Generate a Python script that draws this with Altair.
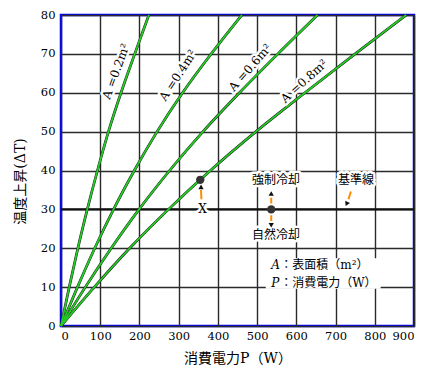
import altair as alt
import pandas as pd

# ---- data ----
temp_rise = [0, 10, 20, 30, 40, 50, 60, 70, 80]
power_a02 = [0, 21, 43, 67, 93, 121, 153, 188, 224]
power_a04 = [0, 42, 86, 134, 187, 245, 310, 383, 461]
power_a06 = [0, 62, 128, 199, 277, 362, 455, 553, 654]
power_a08 = [0, 85, 175, 274, 381, 497, 622, 750, 880]
areas = ["0.2", "0.4", "0.6", "0.8"]

x_ticks = [0, 100, 200, 300, 400, 500, 600, 700, 800, 900]
y_ticks = [0, 10, 20, 30, 40, 50, 60, 70, 80]

curve_labels = ["A =0.2m²", "A =0.4m²", "A =0.6m²", "A =0.8m²"]
curve_label_p = [140, 298, 482, 620]
curve_label_t = [65.5, 64.5, 66.5, 63.0]
curve_label_angle = [290, 303, 311, 318]

ref_temp = 30
point_p = [355, 536]
point_t = [37.6, 30]

text_items = ["X", "強制冷却", "自然冷却", "基準線"]
text_p = [361, 548, 548, 752]
text_t = [30.0, 37.5, 23.4, 37.5]

legend_sym = ["A", "P"]
legend_rest = ["：表面積（m²）", "：消費電力（W）"]
legend_p = [536, 536]
legend_rest_p = [559, 559]
legend_t = [15.7, 11.1]
legend_box = {"P": 522, "P2": 815, "T": 9.6, "T2": 17.4}

stem_p = [358, 536, 536, 739]
stem_t = [32.6, 31.5, 28.5, 34.6]
stem_p2 = [357, 536, 536, 733]
stem_t2 = [35.0, 33.0, 27.0, 32.6]

head_p = [357, 536, 536, 729]
head_t = [35.6, 33.9, 26.1, 31.6]
head_angle = [0, 0, 180, 205]

# ---- tables ----
rows = []
for a, ps in zip(areas, [power_a02, power_a04, power_a06, power_a08]):
    for p, t in zip(ps, temp_rise):
        rows.append({"area": a, "P": p, "T": t})
curves = pd.DataFrame(rows)

labels_df = pd.DataFrame({"txt": curve_labels, "P": curve_label_p,
                          "T": curve_label_t, "ang": curve_label_angle})
points_df = pd.DataFrame({"P": point_p, "T": point_t})
texts_df = pd.DataFrame({"txt": text_items, "P": text_p, "T": text_t})
leg_sym_df = pd.DataFrame({"txt": legend_sym, "P": legend_p, "T": legend_t})
leg_rest_df = pd.DataFrame({"txt": legend_rest, "P": legend_rest_p, "T": legend_t})
box_df = pd.DataFrame([legend_box])
stems_df = pd.DataFrame({"P": stem_p, "T": stem_t, "P2": stem_p2, "T2": stem_t2})
heads_df = pd.DataFrame({"P": head_p, "T": head_t, "ang": head_angle})
ref_df = pd.DataFrame({"T": [ref_temp]})

SERIF = "DejaVu Serif, Noto Sans CJK JP"

xs = alt.Scale(domain=[0, 900], nice=False, zero=False)
ys = alt.Scale(domain=[0, 80], nice=False, zero=False)
X = alt.X("P:Q", scale=xs, axis=alt.Axis(values=x_ticks, title="消費電力P（W）",
                                           titlePadding=10, labelPadding=4,
                                           labelOverlap=False))
Y = alt.Y("T:Q", scale=ys, axis=alt.Axis(values=y_ticks, title="温度上昇(ΔT)",
                                           titlePadding=13, labelPadding=6, titleY=166,
                                           labelOverlap=False))

ref = alt.Chart(ref_df).mark_rule(color="#111", strokeWidth=2.2).encode(y=Y)

box = alt.Chart(box_df).mark_rect(color="white", opacity=1).encode(
    x=X, y=Y, x2="P2:Q", y2="T2:Q")

lines_bg = alt.Chart(curves).mark_line(color="#222", strokeWidth=2.7, interpolate="monotone").encode(
    x=X, y=Y, detail="area:N", order="T:Q")
lines_fg = alt.Chart(curves).mark_line(color="#22CC22", strokeWidth=1.8, interpolate="monotone").encode(
    x=X, y=Y, detail="area:N", order="T:Q")

def halo_text(df, font, size, align="center", italic=False):
    kw = dict(font=font, fontSize=size, align=align, baseline="middle")
    if italic:
        kw["fontStyle"] = "italic"
    enc = dict(x=X, y=Y, text="txt:N")
    if "ang" in df.columns:
        enc["angle"] = alt.Angle("ang:Q", scale=None)
    h = alt.Chart(df).mark_text(color="white", stroke="white", strokeWidth=5,
                                strokeJoin="round", **kw).encode(**enc)
    t = alt.Chart(df).mark_text(color="black", **kw).encode(**enc)
    return h + t

curve_text = halo_text(labels_df, SERIF, 12)
ann_text = halo_text(texts_df, SERIF, 12)
leg_sym = alt.Chart(leg_sym_df).mark_text(
    font="DejaVu Serif", fontSize=12, fontStyle="italic", align="left", baseline="middle",
    color="black").encode(x=X, y=Y, text="txt:N")
leg_rest = alt.Chart(leg_rest_df).mark_text(
    font=SERIF, fontSize=12, align="left", baseline="middle",
    color="black").encode(x=X, y=Y, text="txt:N")

stems = alt.Chart(stems_df).mark_rule(color="#FF8C00", strokeWidth=2).encode(
    x=X, y=Y, x2="P2:Q", y2="T2:Q")
heads = alt.Chart(heads_df).mark_point(shape="triangle", filled=True, color="#111",
                                       size=28, opacity=1).encode(
    x=X, y=Y, angle=alt.Angle("ang:Q", scale=None))
dots = alt.Chart(points_df).mark_point(shape="circle", filled=True, color="#333",
                                       size=70, opacity=1).encode(x=X, y=Y)

chart = alt.layer(
    ref, box, lines_bg, lines_fg, curve_text, ann_text, leg_sym, leg_rest, stems, heads, dots
).properties(
    width=353, height=311,
    autosize=alt.AutoSizeParams(type="none"),
    padding={"left": 53, "top": 7, "right": 8, "bottom": 45},
).configure_view(
    stroke="#0000FF", strokeWidth=2.5
).configure_axis(
    grid=True, gridColor="#2a2a2a", gridWidth=1.4, gridOpacity=1,
    domain=False, ticks=False,
    labelFont="DejaVu Serif", labelFontSize=11.5, labelColor="black",
    titleFont=SERIF, titleFontSize=14, titleFontWeight="normal", titleColor="black",
)

chart.save("out.html", embed_options={"renderer": "svg", "actions": False})
